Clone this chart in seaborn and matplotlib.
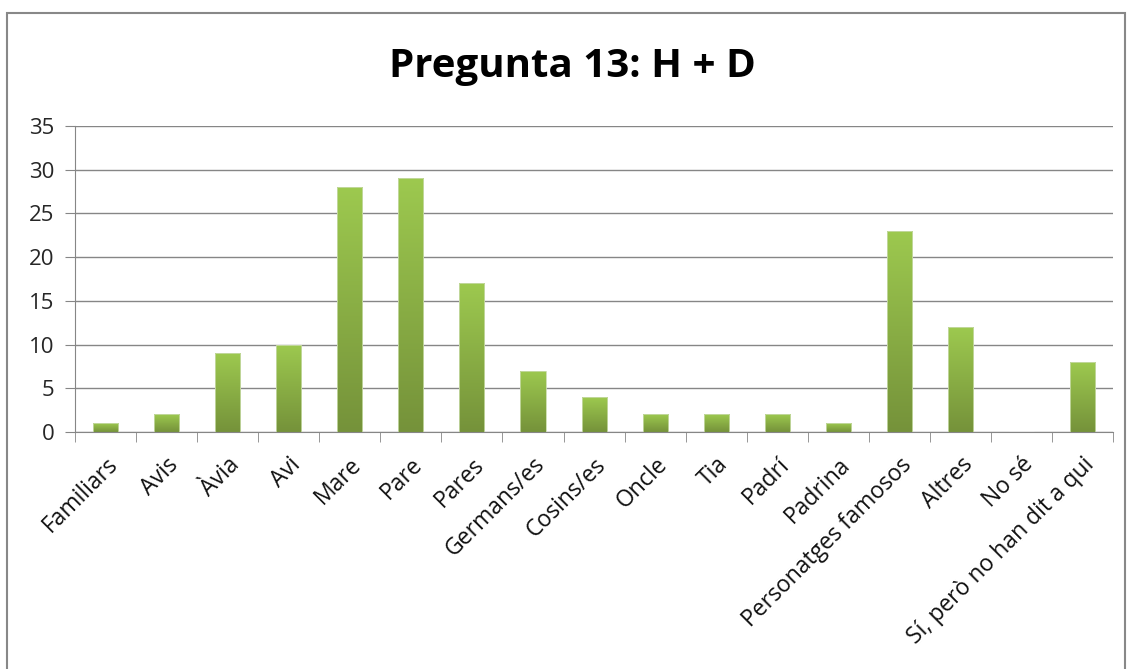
import numpy as np
import pandas as pd
import seaborn as sns
import matplotlib.pyplot as plt
from matplotlib.patches import Rectangle
from matplotlib.colors import LinearSegmentedColormap

categories = ['Familiars', 'Avis', 'Àvia', 'Avi', 'Mare', 'Pare', 'Pares',
              'Germans/es', 'Cosins/es', 'Oncle', 'Tia', 'Padrí', 'Padrina',
              'Personatges famosos', 'Altres', 'No sé',
              'Sí, però no han dit a qui']
values = [1, 2, 9, 10, 28, 29, 17, 7, 4, 2, 2, 2, 1, 23, 12, 0, 8]
yticks = [0, 5, 10, 15, 20, 25, 30, 35]

df = pd.DataFrame({'cat': categories, 'val': values})

sns.set_style('white')
plt.rcParams['font.family'] = ['Open Sans', 'DejaVu Sans']

fig = plt.figure(figsize=(11.32, 6.69), dpi=100)
ax = fig.add_axes([0.0663, 0.3543, 0.917, 0.4574])

sns.barplot(data=df, x='cat', y='val', ax=ax, width=0.41, color='#8DB347',
            saturation=1)

# gradient fill for every bar (light top, dark bottom)
cmap = LinearSegmentedColormap.from_list('g', ['#75923A', '#9DC94F'])
grad = np.linspace(0, 1, 256).reshape(-1, 1)
for p in ax.patches:
    x0, w, h = p.get_x(), p.get_width(), p.get_height()
    if h <= 0:
        continue
    p.set_facecolor('none')
    p.set_edgecolor('none')
    im = ax.imshow(grad, cmap=cmap, aspect='auto', origin='lower',
                   extent=[x0, x0 + w, 0, h], zorder=2)
    im.set_clip_path(p)
    ax.add_patch(Rectangle((x0, 0), w, h, fill=False, edgecolor='#C8DBA8',
                           linewidth=0.6, zorder=3))

ax.set_xlim(-0.5, len(categories) - 0.5)
ax.set_ylim(0, 35)
ax.set_yticks(yticks)
ax.yaxis.grid(True, color='#868686', linewidth=1)
ax.set_axisbelow(True)
for s in ['top', 'right']:
    ax.spines[s].set_visible(False)
ax.spines['left'].set_color('#868686')
ax.spines['bottom'].set_color('#868686')

ax.tick_params(axis='y', labelsize=16, length=7, color='#868686',
               direction='out', left=True, pad=8)
ax.set_xticks(range(len(categories)))
ax.set_xticklabels(categories, rotation=45, ha='right', rotation_mode='anchor',
                   fontsize=16.5, color='#111111')
ax.tick_params(axis='x', length=0, pad=15)
# ticks between categories
ax.set_xticks(np.arange(-0.5, len(categories), 1), minor=True)
ax.tick_params(axis='x', which='minor', length=7, color='#868686',
               bottom=True, direction='out')
ax.set_xlabel('')
ax.set_ylabel('')

fig.text(0.506, 0.9, 'Pregunta 13: H + D', ha='center', va='center',
         fontsize=29, fontweight='bold', color='black')

fig.patches.append(Rectangle((7 / 1132, -0.05), 1118 / 1132, 1.05 - 13 / 669,
                             transform=fig.transFigure, fill=False,
                             edgecolor='#888888', linewidth=1.5))

fig.savefig('out.png', dpi=100)
